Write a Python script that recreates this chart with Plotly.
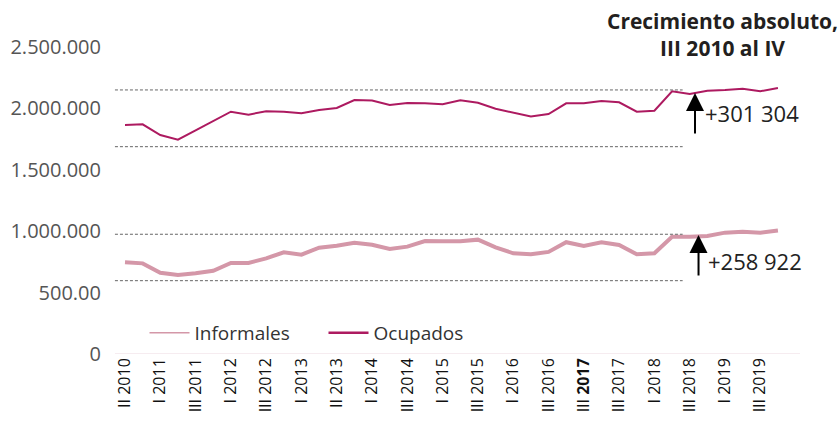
import plotly.graph_objects as go

quarters = list(range(38))
tick_labels = ["II 2010", "I 2011", "III 2011", "I 2012", "III 2012", "I 2013", "II 2013",
               "I 2014", "III 2014", "I 2015", "III 2015", "I 2016", "III 2016",
               "III <b>2017</b>", "III 2017", "I 2018", "III 2018", "I 2019", "III 2019"]

ocupados = [1864700, 1870000, 1783000, 1745000, 1821000, 1897000, 1973000, 1949000,
            1976000, 1973000, 1960000, 1987000, 2003000, 2068000, 2063000, 2027000,
            2044000, 2041000, 2033000, 2065000, 2046000, 1997000, 1965000, 1933000,
            1954000, 2041000, 2041000, 2060000, 2049000, 1973000, 1981000, 2139000,
            2117000, 2144000, 2150000, 2160000, 2139000, 2166000]

informales = [746700, 738000, 662000, 643000, 657000, 678000, 741000, 741000,
              779000, 828000, 809000, 866000, 882000, 906000, 890000, 855000,
              874000, 920000, 918000, 918000, 931000, 869000, 820000, 812000,
              831000, 910000, 879000, 910000, 888000, 812000, 820000, 955000,
              955000, 961000, 988000, 996000, 988000, 1005600]

y_ticks = [0, 500000, 1000000, 1500000, 2000000, 2500000]
y_tick_text = ["0", "500.00", "1.000.000", "1.500.000", "2.000.000", "2.500.000"]

growth_labels = ["+301 304", "+258 922"]
title_text = "Crecimiento absoluto,<br>III 2010 al IV"

ocup_color = "#ad1a60"
inf_color = "#d497a8"
FONT = "Open Sans"

fig = go.Figure()
fig.add_trace(go.Scatter(x=quarters, y=informales, mode="lines", name="Informales",
                         line=dict(color=inf_color, width=4), showlegend=False))
fig.add_trace(go.Scatter(x=quarters, y=ocupados, mode="lines", name="Ocupados",
                         line=dict(color=ocup_color, width=2), showlegend=False))
# legend entries (thin sample lines as in the reference)
fig.add_trace(go.Scatter(x=[None], y=[None], mode="lines", name="Informales",
                         line=dict(color=inf_color, width=1.5)))
fig.add_trace(go.Scatter(x=[None], y=[None], mode="lines", name="Ocupados",
                         line=dict(color=ocup_color, width=2.5)))

# dashed bracket lines
for yv in [2150000, 1688000, 975000, 597000]:
    fig.add_shape(type="line", xref="x", yref="y", x0=-0.57, x1=31.6, y0=yv, y1=yv,
                  line=dict(color="#666666", width=1, dash="3px,2px"))

# arrows
fig.add_annotation(x=32.3, y=2125000, ax=32.3, ay=1783000, xref="x", yref="y",
                   axref="x", ayref="y", showarrow=True, arrowhead=2, arrowsize=1.8,
                   arrowwidth=2, arrowcolor="black", text="")
fig.add_annotation(x=32.5, y=969000, ax=32.5, ay=627000, xref="x", yref="y",
                   axref="x", ayref="y", showarrow=True, arrowhead=2, arrowsize=1.8,
                   arrowwidth=2, arrowcolor="black", text="")
fig.add_annotation(x=32.75, y=1965000, xref="x", yref="y", text=growth_labels[0],
                   showarrow=False, xanchor="left", yanchor="middle",
                   font=dict(family=FONT, size=22, color="#222222"))
fig.add_annotation(x=32.95, y=755000, xref="x", yref="y", text=growth_labels[1],
                   showarrow=False, xanchor="left", yanchor="middle",
                   font=dict(family=FONT, size=22, color="#222222"))

# title
fig.add_annotation(x=(722 - 110) / 690, y=(354 - 35) / 324, xref="paper", yref="paper",
                   text="<b>" + title_text + "</b>", showarrow=False,
                   xanchor="center", yanchor="middle", align="center",
                   font=dict(family=FONT, size=21, color="#231f20"))

fig.update_layout(
    width=840, height=434,
    margin=dict(l=110, r=40, t=30, b=80),
    paper_bgcolor="white", plot_bgcolor="white",
    font=dict(family=FONT, color="#444444"),
    showlegend=True,
    legend=dict(orientation="h", x=0.05, y=0.065, xanchor="left", yanchor="middle",
                font=dict(family=FONT, size=19, color="#333333"),
                bgcolor="rgba(0,0,0,0)", itemwidth=40,
                entrywidth=124, entrywidthmode="pixels"),
    xaxis=dict(range=[-0.85, 38.25], tickmode="array",
               tickvals=quarters[::2], ticktext=tick_labels, tickangle=-90,
               tickfont=dict(family=FONT, size=16, color="#111111"),
               showgrid=False, zeroline=False, showline=False, ticks="", automargin=False),
    yaxis=dict(range=[0, 2638000], tickmode="array", tickvals=y_ticks,
               ticktext=y_tick_text, tickfont=dict(family=FONT, size=20, color="#555555"),
               showgrid=False, zeroline=False, showline=False, ticks="",
               ticklabelstandoff=8, automargin=False),
)
fig.add_shape(type="line", xref="x", yref="y", x0=-0.57, x1=38.25, y0=0, y1=0,
              line=dict(color="#ecd8e0", width=1))

fig.write_html("out.html", config={"displayModeBar": False},
               post_script="document.body.style.margin='0';document.body.style.padding='0';")
